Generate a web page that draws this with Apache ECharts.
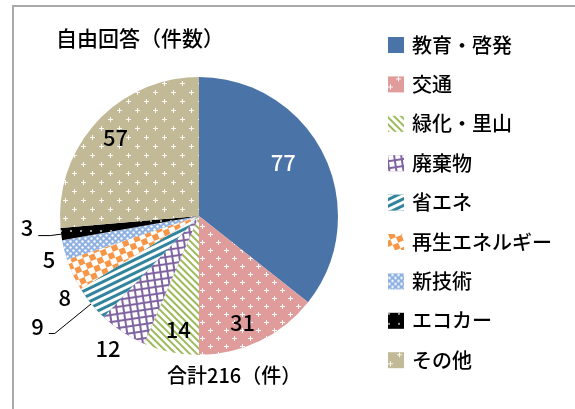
<!DOCTYPE html>
<html>
<head>
<meta charset="utf-8">
<script src="https://cdn.jsdelivr.net/npm/echarts@6/dist/echarts.min.js"></script>
<style>
  html, body { margin: 0; padding: 0; background: #fff; }
  #main { width: 575px; height: 409px; }
</style>
</head>
<body>
<div id="main"></div>
<script>
// data
const categories = ['教育・啓発', '交通', '緑化・里山', '廃棄物', '省エネ', '再生エネルギー', '新技術', 'エコカー', 'その他']
const counts = [77, 31, 14, 12, 9, 8, 5, 3, 57]
const chartTitle = '自由回答（件数）'

const font = '"Noto Sans CJK JP", "Noto Sans", sans-serif'
const cross = 'path://M2,0H3V2H5V3H3V5H2V3H0V2H2Z'

// look of each slice
const baseColors = ['#4A74A8', '#E09C9B', '#FFFFFF', '#8064A2', '#31849B', '#F79646', '#8EB1E2', '#000000', '#C2BA97']
const decals = [
  null,
  { symbol: cross, color: 'rgba(255,255,255,0.95)', symbolSize: 1, dashArrayX: [[5, 11], [0, 8, 5, 3]], dashArrayY: [5, 3] },
  { symbol: 'rect', color: '#9BBB59', symbolSize: 1, dashArrayX: [1, 0], dashArrayY: [2, 2.5], rotation: Math.PI / 4 },
  { symbol: 'rect', color: '#FFFFFF', symbolSize: 1, dashArrayX: [5, 2], dashArrayY: [5, 2], rotation: -0.15 },
  { symbol: 'rect', color: '#FFFFFF', symbolSize: 1, dashArrayX: [1, 0], dashArrayY: [3, 3], rotation: -0.45 },
  { symbol: 'rect', color: '#FFFFFF', symbolSize: 1, dashArrayX: [[6, 6], [0, 6, 6, 0]], dashArrayY: [6, 0], rotation: -0.4 },
  { symbol: 'circle', color: '#FFFFFF', symbolSize: 0.8, dashArrayX: [[3, 3], [0, 3, 3, 0]], dashArrayY: [3, 0] },
  { symbol: 'circle', color: '#CCCCCC', symbolSize: 1, dashArrayX: [2, 8], dashArrayY: [2, 8] },
  { symbol: cross, color: 'rgba(255,255,255,0.9)', symbolSize: 1, dashArrayX: [[5, 13], [0, 9, 5, 4]], dashArrayY: [5, 4] }
]
// label placement: in = inside slice, out = beside slice, line = with leader line
const labelKinds = ['in', 'in', 'in', 'out', 'line', 'out', 'out', 'line', 'in']
const labelShift = { 0: [19, -22], 1: [12, 41], 2: [-6, 43], 8: [-30, -29], 3: [-2, 17], 5: [-2, 23], 6: [-9, 10], 4: [0, -7], 7: [0, -8] }
const leader = { 4: [47, 6], 7: [11, 12] }

const total = counts.reduce((a, b) => a + b, 0)

const pieData = categories.map((name, i) => {
  const item = { name: name, value: counts[i], itemStyle: { color: baseColors[i] } }
  if (decals[i]) item.itemStyle.decal = decals[i]
  const kind = labelKinds[i]
  if (kind === 'in') {
    item.label = { position: 'inside', color: i === 0 ? '#FFFFFF' : '#000000' }
    item.labelLine = { show: false }
  } else if (kind === 'out') {
    item.label = { position: 'outside', distanceToLabelLine: 0 }
    item.labelLine = { show: false, length: 0, length2: 0 }
  } else {
    item.label = { position: 'outside', distanceToLabelLine: 5 }
    item.labelLine = { show: true, length: leader[i][0], length2: leader[i][1], lineStyle: { color: '#000', width: 1 } }
  }
  return item
})

const chart = echarts.init(document.getElementById('main'))
const option = {
  animation: false,
  backgroundColor: '#FFFFFF',
  title: [
    {
      text: chartTitle, left: 56, top: 28, padding: 0,
      textStyle: { fontFamily: font, fontSize: 21, fontWeight: 500, color: '#000', lineHeight: 21 }
    },
    {
      text: '合計' + total + '（件）', left: 167, top: 365, padding: 0,
      textStyle: { fontFamily: font, fontSize: 20, fontWeight: 500, color: '#000', lineHeight: 20 }
    }
  ],
  legend: {
    orient: 'vertical',
    left: 388,
    top: 35,
    padding: 0,
    icon: 'rect',
    itemWidth: 16,
    itemHeight: 16,
    itemGap: 19.4,
    selectedMode: false,
    data: categories,
    textStyle: { fontFamily: font, fontSize: 20, fontWeight: 500, lineHeight: 20, color: '#000', padding: [0, 0, 0, 3] }
  },
  graphic: [
    {
      type: 'rect', silent: true, z: -1,
      shape: { x: 13, y: 6, width: 620, height: 520 },
      style: { fill: 'none', stroke: '#A9A9A9', lineWidth: 2 }
    }
  ],
  series: [
    {
      type: 'pie',
      center: [199, 216],
      radius: 139,
      startAngle: 90,
      clockwise: true,
      avoidLabelOverlap: false,
      emphasis: { disabled: true },
      label: { fontFamily: font, fontSize: 22, fontWeight: 500, color: '#000', formatter: '{c}' },
      labelLayout: function (params) {
        const s = labelShift[params.dataIndex]
        return s ? { dx: s[0], dy: s[1] } : {}
      },
      data: pieData
    }
  ]
}
chart.setOption(option)
</script>
</body>
</html>
